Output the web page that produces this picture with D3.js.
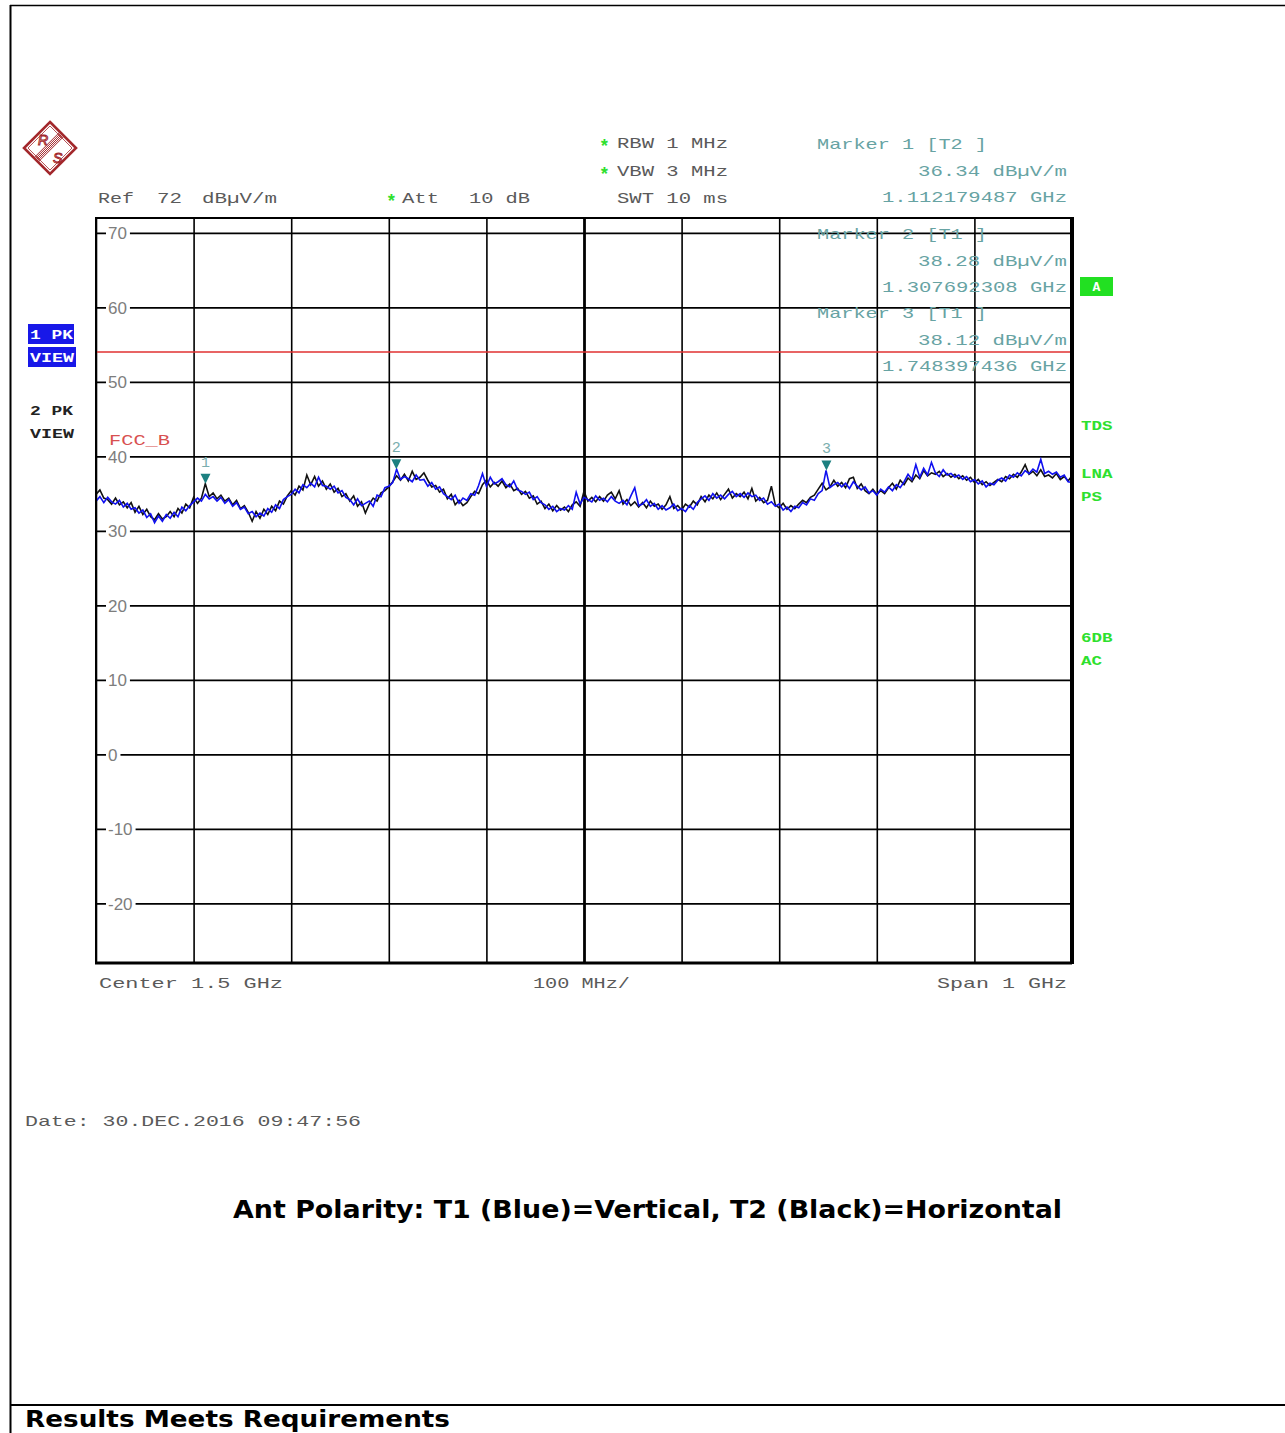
<!DOCTYPE html>
<html><head><meta charset="utf-8">
<script src="https://cdn.jsdelivr.net/npm/d3@7"></script>
<style>
html,body{margin:0;padding:0;background:#fff;}
svg{display:block;}
</style></head><body>
<script>
// Sweep: 1.000 .. 2.000 GHz, one reading every 4 MHz
const sweepStartGHz = 1.0;
const sweepStepGHz = 0.004;

// T1 (blue) - vertical antenna polarity, dBuV/m
const traceT1 = [
34.0,34.6,33.8,34.5,33.9, 33.6,34.1,33.2,33.7,32.9, 33.1,32.4,32.8,31.8,32.3, 31.1,32.0,31.3,32.2,31.7,
32.5,31.9,33.2,32.7,33.4, 33.9,34.4,34.0,34.9,34.3, 34.6,34.0,34.5,33.7,34.2, 33.3,33.8,32.9,33.2,32.3,
32.6,31.9,32.4,32.0,33.0, 32.5,33.5,33.0,34.2,34.6, 34.9,35.6,35.1,36.2,35.8, 36.4,35.9,37.2,36.1,36.0,
35.6,36.0,35.1,35.4,34.5, 34.2,33.5,34.3,33.4,33.7, 34.0,33.3,34.8,34.6,35.8, 36.0,36.5,38.28,36.9,37.3,
37.0,36.6,37.5,36.8,36.9, 36.0,36.5,35.6,35.9,35.0, 34.6,34.2,34.8,33.7,34.4, 34.1,35.0,34.8,36.1,37.7,
36.0,37.2,36.3,36.6,37.0, 36.2,35.9,36.7,35.5,35.3, 34.9,35.2,34.2,34.6,33.8, 33.5,32.9,33.3,32.6,33.0,
32.8,33.4,32.9,35.2,33.6, 34.5,34.2,33.9,34.7,34.1, 34.4,33.9,34.6,34.0,33.7, 34.1,33.5,34.7,35.8,33.4,
33.6,34.2,33.3,33.7,32.9, 33.4,32.8,33.1,33.6,32.7, 33.0,32.6,33.4,32.9,33.8, 34.3,34.7,34.1,35.0,34.4,
34.8,34.3,34.9,35.3,34.6, 35.0,34.5,35.1,34.6,34.8, 34.1,34.4,33.6,33.9,33.3, 33.6,32.8,33.2,32.6,33.3,
33.1,33.8,33.5,34.3,34.1, 35.0,35.4,38.12,35.8,36.2, 36.5,35.9,36.4,35.7,36.6, 36.0,35.5,35.9,35.1,35.4,
34.8,35.6,35.2,35.9,35.4, 36.2,35.8,36.6,37.6,36.9, 38.9,37.2,38.4,37.5,39.2, 37.8,37.3,38.2,37.5,37.7,
37.2,37.5,36.9,37.3,36.6, 36.9,36.3,36.7,35.9,36.4, 36.2,36.8,37.1,36.7,37.5, 37.2,37.8,37.4,38.1,37.7,
38.3,37.9,39.6,37.7,38.0, 37.6,37.9,37.2,37.5,36.6, 36.5
];

// T2 (black) - horizontal antenna polarity, dBuV/m
const traceT2 = [
34.9,35.5,34.4,34.2,33.6, 34.4,33.5,33.9,33.1,33.8, 32.5,33.3,32.2,32.9,31.9, 31.5,32.3,31.6,31.9,32.6,
31.9,33.0,32.4,33.6,33.1, 34.5,33.7,34.4,36.34,34.6, 35.1,34.3,34.8,34.0,34.4, 33.5,34.1,33.0,33.4,32.5,
31.3,32.6,31.7,32.9,32.2, 33.3,32.7,34.0,33.6,34.7, 35.4,34.8,36.0,35.5,37.5, 36.2,37.3,36.0,36.7,35.6,
36.3,35.2,35.7,34.6,35.0, 34.0,34.7,33.3,33.9,32.4, 33.6,34.4,34.0,35.1,35.4, 35.9,36.6,37.4,36.8,37.6,
36.7,38.0,36.9,37.2,37.8, 36.8,35.9,36.1,35.2,35.6, 34.3,34.9,33.5,34.1,33.4, 33.8,34.6,35.3,35.0,36.2,
36.8,35.9,36.5,36.0,36.7, 35.8,36.3,35.4,35.7,34.9, 35.3,34.4,34.7,33.6,34.0, 33.0,33.6,32.7,33.4,32.8,
33.2,32.6,33.5,33.9,33.3, 35.3,34.0,34.5,33.9,34.6, 34.0,34.8,35.2,34.3,35.4, 33.6,34.2,33.4,33.9,33.2,
33.8,33.1,34.0,33.3,33.6, 32.9,33.5,34.6,33.0,33.4, 32.8,33.6,33.2,34.0,33.5, 34.6,33.9,34.8,34.3,35.1,
34.2,34.9,35.6,34.4,35.0, 34.6,35.2,34.3,35.7,34.0, 34.5,33.8,34.1,36.0,33.5, 33.1,33.7,32.9,33.4,33.0,
33.6,34.1,33.8,34.5,34.8, 35.6,36.4,35.5,35.9,36.8, 36.0,36.5,35.8,37.0,37.2, 35.7,36.3,35.4,35.0,35.6,
34.9,35.4,35.0,35.8,36.4, 35.6,36.8,36.2,37.1,36.6, 37.5,37.0,38.1,37.4,37.8, 37.6,38.0,37.3,37.7,37.2,
37.6,37.0,37.4,36.8,37.2, 36.5,36.9,36.2,36.6,36.1, 36.5,36.9,36.6,37.3,37.0, 37.6,37.2,37.9,38.9,37.6,
38.0,37.4,38.2,37.3,37.5, 37.1,37.7,36.9,37.3,36.7, 37.4
];

// Markers
const markerIds = [1, 2, 3];
const markerTraces = ["T2", "T1", "T1"];
const markerFreqGHz = [1.112179487, 1.307692308, 1.748397436];
const markerLevels = [36.34, 38.28, 38.12];

// Level axis and frequency grid
const levelTicks = [70, 60, 50, 40, 30, 20, 10, 0, -10, -20];
const freqTicks = [1.0, 1.1, 1.2, 1.3, 1.4, 1.5, 1.6, 1.7, 1.8, 1.9, 2.0];
const refLevel = 72;
const bottomLevel = -28;
const limitFCC_B = 54;

const W = 1285, H = 1433;
const MONO = "'Liberation Mono','DejaVu Sans Mono',monospace";
const SANS = "'Liberation Sans','Arial',sans-serif";
const BOLD = "'DejaVu Sans','Verdana',sans-serif";
const GREY = "#5a5a5a";
const TEAL = "#67a3a3";
const GREEN = "#2ee02e";

const svg = d3.select("body").append("svg").attr("width", W).attr("height", H);

// page frame
svg.append("line").attr("x1", 10.5).attr("x2", 10.5).attr("y1", 5).attr("y2", H).attr("stroke", "#000").attr("stroke-width", 2);
svg.append("line").attr("x1", 10).attr("x2", W).attr("y1", 5.5).attr("y2", 5.5).attr("stroke", "#000").attr("stroke-width", 1.5);
svg.append("line").attr("x1", 10).attr("x2", W).attr("y1", 1405).attr("y2", 1405).attr("stroke", "#000").attr("stroke-width", 2);

function txt(g, str, x, y, opt) {
  opt = opt || {};
  const t = g.append("text").attr("x", x).attr("y", y).text(str)
    .attr("font-family", opt.family || MONO)
    .attr("font-size", opt.size || 15)
    .attr("font-weight", opt.weight || "normal")
    .attr("fill", opt.fill || GREY);
  if (opt.len) t.attr("textLength", opt.len).attr("lengthAdjust", "spacingAndGlyphs");
  if (opt.anchor) t.attr("text-anchor", opt.anchor);
  return t;
}

// R&S logo
const logo = svg.append("g").attr("transform", "translate(50,148)");
const LR = "#a3282c";
logo.append("path").attr("d", "M0,-26 L26,0 L0,26 L-26,0 Z").attr("fill", "none").attr("stroke", LR).attr("stroke-width", 2.6);
logo.append("path").attr("d", "M0,-22 L22,0 L0,22 L-22,0 Z").attr("fill", "none").attr("stroke", LR).attr("stroke-width", 0.8);
[-3, -1.5, 0, 1.5, 3].forEach(o => {
  logo.append("line").attr("x1", 12 + o * 0.7).attr("y1", -14 + o * 0.7).attr("x2", -14 + o * 0.7).attr("y2", 12 + o * 0.7)
    .attr("stroke", LR).attr("stroke-width", 1);
});
txt(logo, "R", -12, -3, { family: SANS, size: 14, fill: "none" }).attr("stroke", LR).attr("stroke-width", 1).attr("font-style", "italic");
txt(logo, "S", 3, 15, { family: SANS, size: 14, fill: "none" }).attr("stroke", LR).attr("stroke-width", 1).attr("font-style", "italic");

// header fields
const hdr = svg.append("g");
txt(hdr, "Ref", 98, 203, { len: 36 });
txt(hdr, "72", 157, 203, { len: 25 });
txt(hdr, "dB\u00b5V/m", 202, 203, { len: 75 });
txt(hdr, "*", 386, 207, { fill: GREEN, size: 18, weight: "bold" });
txt(hdr, "Att", 402, 203, { len: 37 });
txt(hdr, "10 dB", 469, 203, { len: 61 });
txt(hdr, "*", 599, 152, { fill: GREEN, size: 18, weight: "bold" });
txt(hdr, "RBW 1 MHz", 617, 148, { len: 111 });
txt(hdr, "*", 599, 180, { fill: GREEN, size: 18, weight: "bold" });
txt(hdr, "VBW 3 MHz", 617, 176, { len: 111 });
txt(hdr, "SWT 10 ms", 617, 203, { len: 111 });

// scales
const x = d3.scaleLinear().domain([sweepStartGHz, 2.0]).range([96, 1072]);
const y = d3.scaleLinear().domain([bottomLevel, refLevel]).range([963, 218]);
const pw = x(2.0) - x(1.0), ph = y(bottomLevel) - y(refLevel);

const plot = svg.append("g");

// vertical grid
const gx = plot.append("g").attr("transform", `translate(0,${y(refLevel)})`)
  .call(d3.axisBottom(x).tickValues(freqTicks).tickSize(ph).tickFormat(""));
gx.select(".domain").remove();
gx.selectAll(".tick line").attr("stroke", "#000")
  .attr("stroke-width", d => Math.abs(d - 1.5) < 1e-9 ? 2.8 : 1.6);

// horizontal grid with level labels
const gy = plot.append("g").attr("transform", `translate(${x(1.0)},0)`)
  .call(d3.axisRight(y).tickValues(levelTicks).tickSize(pw).tickFormat(d => String(d)));
gy.select(".domain").remove();
gy.selectAll(".tick line").attr("stroke", "#000").attr("stroke-width", 1.6);
gy.selectAll(".tick text")
  .attr("x", 12).attr("dy", "0.35em").attr("text-anchor", "start")
  .attr("font-family", SANS).attr("font-size", 17).attr("fill", "#7d7d7d");
gy.selectAll(".tick").each(function () {
  const t = d3.select(this).select("text");
  const b = t.node().getBBox();
  d3.select(this).insert("rect", "text").attr("x", b.x - 2).attr("y", b.y + 3)
    .attr("width", b.width + 5).attr("height", b.height - 6).attr("fill", "#fff");
});

// limit line
plot.append("line").attr("x1", x(1.0)).attr("x2", x(2.0)).attr("y1", y(limitFCC_B)).attr("y2", y(limitFCC_B))
  .attr("stroke", "#e03030").attr("stroke-width", 1.5);
txt(plot, "FCC_B", 109, 445, { len: 61, fill: "#d85050", size: 14 });

// traces
const line = d3.line().x((d, i) => x(sweepStartGHz + i * sweepStepGHz)).y(d => y(d));
plot.append("path").datum(traceT2).attr("d", line).attr("fill", "none").attr("stroke", "#111").attr("stroke-width", 1.6);
plot.append("path").datum(traceT1).attr("d", line).attr("fill", "none").attr("stroke", "#1010f0").attr("stroke-width", 1.6);

// marker symbols
markerIds.forEach((id, k) => {
  const mx = x(markerFreqGHz[k]), my = y(markerLevels[k]);
  plot.append("path").attr("d", `M${mx - 5},${my - 10} L${mx + 5},${my - 10} L${mx},${my} Z`).attr("fill", "#1c8080");
  txt(plot, String(id), mx, my - 17, { anchor: "middle", fill: "#7aaeae", size: 15 });
});

// frame
plot.append("rect").attr("x", x(1.0)).attr("y", y(refLevel)).attr("width", pw).attr("height", ph)
  .attr("fill", "none").attr("stroke", "#000").attr("stroke-width", 2);
plot.append("line").attr("x1", x(2.0)).attr("x2", x(2.0)).attr("y1", y(refLevel) - 1).attr("y2", y(bottomLevel) + 1)
  .attr("stroke", "#000").attr("stroke-width", 4);
plot.append("line").attr("x1", x(1.0) - 1).attr("x2", x(2.0)).attr("y1", y(bottomLevel)).attr("y2", y(bottomLevel))
  .attr("stroke", "#000").attr("stroke-width", 3);

// marker readouts
const mk = svg.append("g");
const blockY = [149, 239, 318];
markerIds.forEach((id, k) => {
  const by = blockY[k];
  txt(mk, `Marker ${id} [${markerTraces[k]} ]`, 817, by, { len: 170, fill: TEAL });
  txt(mk, `${markerLevels[k].toFixed(2)} dB\u00b5V/m`, 918, by + 27, { len: 149, fill: TEAL });
  txt(mk, `${markerFreqGHz[k].toFixed(9)} GHz`, 882, by + 53, { len: 185, fill: TEAL });
});

// side annotations
const side = svg.append("g");
side.append("rect").attr("x", 1080).attr("y", 277).attr("width", 33).attr("height", 19).attr("fill", "#22e022");
txt(side, "A", 1096.5, 291, { anchor: "middle", fill: "#fff", weight: "bold", size: 13 });
[["TDS", 430], ["LNA", 478], ["PS", 501], ["6DB", 642], ["AC", 665]].forEach(([s, yy]) => {
  txt(side, s, 1081, yy, { fill: GREEN, weight: "bold", size: 13, len: s.length * 10.5 });
});
side.append("rect").attr("x", 28).attr("y", 324).attr("width", 46).attr("height", 20).attr("fill", "#1818e8");
side.append("rect").attr("x", 28).attr("y", 347).attr("width", 48).attr("height", 20).attr("fill", "#1818e8");
txt(side, "1 PK", 30, 339, { fill: "#fff", weight: "bold", size: 13, len: 43 });
txt(side, "VIEW", 30, 362, { fill: "#fff", weight: "bold", size: 13, len: 44 });
txt(side, "2 PK", 30, 415, { fill: "#222", weight: "bold", size: 13, len: 43 });
txt(side, "VIEW", 30, 438, { fill: "#222", weight: "bold", size: 13, len: 44 });

// footer of the sweep
const ft = svg.append("g");
txt(ft, "Center  1.5 GHz", 99, 988, { len: 184 });
txt(ft, "100 MHz/", 533, 988, { len: 97 });
txt(ft, "Span 1 GHz", 937, 988, { len: 130 });
txt(ft, "Date: 30.DEC.2016  09:47:56", 25, 1126, { len: 336 });

txt(svg, "Ant Polarity: T1 (Blue)=Vertical, T2 (Black)=Horizontal", 233, 1218,
  { family: BOLD, weight: "bold", size: 24, fill: "#000", len: 829 });
txt(svg, "Results Meets Requirements", 25, 1427,
  { family: BOLD, weight: "bold", size: 23, fill: "#000", len: 425 });
</script>
</body></html>
